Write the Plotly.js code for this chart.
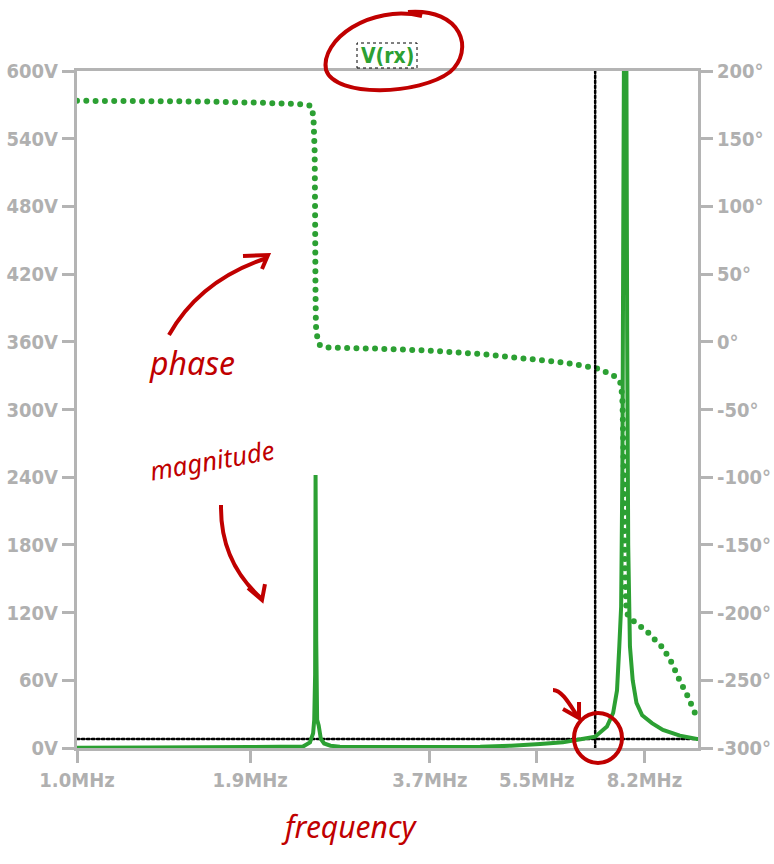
<!DOCTYPE html>
<html>
<head>
<meta charset="utf-8">
<script src="https://cdn.plot.ly/plotly-3.0.1.min.js"></script>
<style>
  html,body{margin:0;padding:0;background:#fff;}
  #chart{width:774px;height:864px;}
  .js-line{stroke-linecap:round;}
</style>
</head>
<body>
<div id="chart"></div>
<script>
// ---- data (frequency in MHz) ----
const magFreq = [1.00,1.31,1.58,1.90,2.12,2.24,2.312,2.372,2.40,2.41,2.418,2.422,2.428,2.436,2.45,2.47,2.50,2.56,2.65,2.96,3.70,4.46,5.00,5.57,6.06,6.505,6.83,7.135,7.30,7.406,7.469,7.52,7.556,7.58,7.61,7.665,7.69,7.72,7.77,7.85,7.96,8.13,8.43,8.78,9.35,9.96,10.0];
const magVolts = [0.3,0.4,0.6,0.9,1.0,1.1,1.3,5,13,25,65,242,95,25,20,8,4,2,1.2,0.9,0.8,1.0,2.0,3.5,5,8,10,19,31,51,90,125,250,460,700,650,370,180,90,60,40,29,22,16,11,8,8];

const phaseFreq = [1.00,1.58,2.00,2.29,2.37,2.39,2.404,2.414,2.418,2.421,2.425,2.435,2.462,2.546,3.01,3.70,4.46,5.57,6.06,6.70,6.93,7.16,7.38,7.52,7.56,7.60,7.63,7.67,7.72,7.84,8.28,8.52,8.78,9.07,9.35,9.63,9.92,9.95];
const phaseDeg = [178,177.5,176.5,175.5,174.5,173.5,164,140,90,40,12,4.5,-2.8,-4.3,-5,-6.5,-9,-13.5,-15.2,-18.6,-20,-23,-26,-31,-45,-110,-170,-198,-203,-205.5,-214,-220,-226,-237,-250.5,-262,-275.6,-277];

const cursorFreq = 6.83;   // MHz
const cursorVolts = 8;     // V

const freqTicks = [1.0,1.9,3.7,5.5,8.2];
const freqTickText = ['1.0MHz','1.9MHz','3.7MHz','5.5MHz','8.2MHz'];
const voltTicks = [0,60,120,180,240,300,360,420,480,540,600];
const voltTickText = voltTicks.map(v => v + 'V');
const phaseTicks = [-300,-250,-200,-150,-100,-50,0,50,100,150,200];
const phaseTickText = phaseTicks.map(v => v + '°');

// ---- styling ----
const GRAY = '#b4b4b4';
const GREEN = '#2ca033';
const RED = '#c00000';
const tickFont = {family:'DejaVu Sans Condensed, DejaVu Sans', size:20, color:'#b0b0b0'};
const bold = (arr) => arr.map(s => '<b>' + s + '</b>');

const L = 77, R = 698, T = 71, B = 748;
function P(px, py){ return ((px-L)/(R-L)).toFixed(4) + ',' + ((B-py)/(B-T)).toFixed(4); }
function PX(px){ return (px-L)/(R-L); }
function PY(py){ return (B-py)/(B-T); }

const traces = [
  {x:phaseFreq, y:phaseDeg, yaxis:'y', mode:'lines', line:{color:GREEN, width:6, dash:'0px,9.3px', simplify:false}, hoverinfo:'skip'},
  {x:[cursorFreq,cursorFreq], y:[0,600], yaxis:'y2', mode:'lines', line:{color:'#000', width:2.5, dash:'2.5px,2.5px'}, hoverinfo:'skip'},
  {x:[1,10], y:[cursorVolts,cursorVolts], yaxis:'y2', mode:'lines', line:{color:'#000', width:2.5, dash:'2.5px,2.5px'}, hoverinfo:'skip'},
  {x:magFreq, y:magVolts, yaxis:'y2', mode:'lines', line:{color:GREEN, width:4, simplify:false}, hoverinfo:'skip'}
];

const axisCommon = {showline:true, linecolor:GRAY, linewidth:3, ticks:'outside', ticklen:12, tickwidth:3, tickcolor:GRAY, showgrid:false, zeroline:false, tickfont:tickFont, tickmode:'array', fixedrange:true};

const redLine = {color:RED, width:4};
const shapes = [
  // title dashed box
  {type:'rect', xref:'paper', yref:'paper', x0:PX(357), x1:PX(417), y0:PY(68), y1:PY(43), line:{color:'#000', width:1, dash:'dot'}},
  // ellipse around title
  {type:'path', xref:'paper', yref:'paper', line:redLine,
   path:'M'+P(422,16)+' C'+P(370,4)+' '+P(320,40)+' '+P(326,70)+' C'+P(335,98)+' '+P(420,95)+' '+P(450,72)+' C'+P(475,50)+' '+P(462,8)+' '+P(408,12)},
  // phase arrow
  {type:'path', xref:'paper', yref:'paper', line:redLine, path:'M'+P(169,335)+' Q'+P(200,280)+' '+P(267,258)},
  {type:'path', xref:'paper', yref:'paper', line:redLine, path:'M'+P(243,256)+' L'+P(268,255)+' L'+P(262,269)},
  // magnitude arrow
  {type:'path', xref:'paper', yref:'paper', line:redLine, path:'M'+P(221,505)+' Q'+P(220,562)+' '+P(262,599)},
  {type:'path', xref:'paper', yref:'paper', line:redLine, path:'M'+P(248,588)+' L'+P(262,600)+' L'+P(265,584)},
  // small arrow near cursor
  {type:'path', xref:'paper', yref:'paper', line:redLine, path:'M'+P(553,690)+' C'+P(562,690)+' '+P(570,705)+' '+P(578,717)},
  {type:'path', xref:'paper', yref:'paper', line:redLine, path:'M'+P(563,709)+' L'+P(579,718)+' L'+P(579,702)},
  // circle near cursor crossing
  {type:'circle', xref:'paper', yref:'paper', x0:PX(574), x1:PX(622), y0:PY(763), y1:PY(713), line:redLine}
];

const annFont = (s) => ({family:'Noto Sans', size:s, color:RED, style:'italic'});
const annotations = [
  {xref:'paper', yref:'paper', x:PX(387), y:PY(56), text:'<b>V(rx)</b>', showarrow:false, xanchor:'center', yanchor:'middle', font:{family:'DejaVu Sans Condensed, DejaVu Sans', size:21, color:GREEN}},
  {xref:'paper', yref:'paper', x:PX(192), y:PY(362), text:'phase', showarrow:false, xanchor:'center', yanchor:'middle', font:annFont(32)},
  {xref:'paper', yref:'paper', x:PX(212), y:PY(460), text:'magnitude', showarrow:false, xanchor:'center', yanchor:'middle', textangle:-10, font:annFont(26)},
  {xref:'paper', yref:'paper', x:PX(349), y:PY(826), text:'frequency', showarrow:false, xanchor:'center', yanchor:'middle', font:annFont(30)}
];

const layout = {
  width:774, height:864,
  margin:{l:L, r:774-R, t:T, b:864-B},
  paper_bgcolor:'#fff', plot_bgcolor:'#fff',
  showlegend:false,
  xaxis:Object.assign({}, axisCommon, {type:'log', range:[0,1], tickvals:freqTicks, ticktext:bold(freqTickText), mirror:true}),
  yaxis:Object.assign({}, axisCommon, {side:'right', range:[-300,200], tickvals:phaseTicks, ticktext:bold(phaseTickText)}),
  yaxis2:Object.assign({}, axisCommon, {side:'left', overlaying:'y', range:[0,600], tickvals:voltTicks, ticktext:bold(voltTickText)}),
  shapes:shapes,
  annotations:annotations
};

Plotly.newPlot('chart', traces, layout, {displayModeBar:false, staticPlot:true});
</script>
</body>
</html>
